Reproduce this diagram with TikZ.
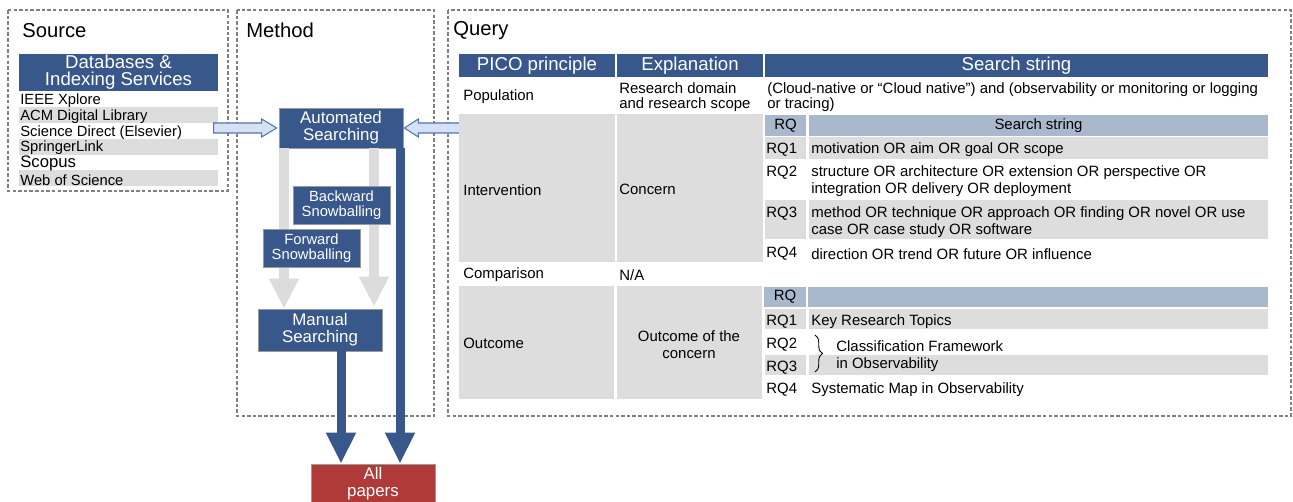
\documentclass[tikz,border=0pt]{standalone}
\usepackage{fontspec}
\setmainfont{Liberation Sans}
\usepackage{xcolor}
\usepackage{tikz}
\usetikzlibrary{arrows.meta, decorations.pathreplacing, calc}
\definecolor{boxblue}{RGB}{56,87,138}
\definecolor{cellgray}{RGB}{221,221,221}
\definecolor{subblue}{RGB}{170,184,206}
\definecolor{flowgray}{RGB}{220,220,220}
\definecolor{paperred}{RGB}{176,58,56}
\definecolor{hollowfill}{RGB}{214,226,243}
\definecolor{hollowline}{RGB}{79,117,178}

\begin{document}
\begin{tikzpicture}[
  x=0.2mm, y=-0.2mm,
  frame/.style={draw=gray, dash pattern=on 2pt off 1.2pt, line width=0.6pt},
  title/.style={anchor=west, inner sep=0pt, yshift=-0.5mm,
                font=\fontsize{11.5}{13}\selectfont},
  stepbox/.style={draw=gray!80, fill=boxblue, text=white, align=center,
                  inner sep=0pt, font=\fontsize{9.6}{9.6}\selectfont},
  snowbox/.style={stepbox, minimum width=19.4mm, minimum height=7.6mm,
                  font=\fontsize{8.4}{8.6}\selectfont},
  hdrcell/.style={fill=boxblue, text=white, inner sep=0pt, minimum height=4.6mm,
                  font=\fontsize{10.6}{11}\selectfont},
  subcell/.style={fill=subblue, inner sep=0pt, font=\fontsize{8.5}{9.6}\selectfont},
  txt/.style={anchor=west, inner sep=0pt, align=left, yshift=-0.35mm,
              font=\fontsize{8.5}{9.6}\selectfont},
  src/.style={anchor=west, inner sep=0pt, yshift=-0.35mm,
              font=\fontsize{8.4}{9}\selectfont},
  flow/.style={line width=2mm, flowgray, -{Triangle[length=6mm, width=5.6mm]}},
  mainflow/.style={line width=1.8mm, boxblue, -{Triangle[length=6.2mm, width=5.6mm]}},
  hollow/.style={draw=hollowline, fill=hollowfill, line width=0.6pt},
]
\useasboundingbox (0,0) rectangle (1293,502);

%% Dashed panels
\draw[frame] (8,10) rectangle (228,191);
\draw[frame] (237,10) rectangle (434,416);
\draw[frame] (448,10) rectangle (1291,416);
\node[title] (srctitle) at (22,28) {Source};
\node[title] (methtitle) at (246,28) {Method};
\node[title] (qrytitle) at (453,28) {Query};

%% Source: databases list
\node[hdrcell, minimum width=39.8mm, minimum height=7.4mm, align=center,
      font=\fontsize{10.6}{9.6}\selectfont] (dbhead) at (118.5,72.5)
  {\rule{0pt}{1.4mm}Databases \&\\Indexing Services};
\foreach \y in {107,139,170}{
  \fill[cellgray] (19,\y) rectangle (218,\y+16);
}
\foreach \n/\y/\t in {1/99/IEEE Xplore, 2/115/ACM Digital Library,
                      3/131/Science Direct (Elsevier), 4/146/SpringerLink,
                      6/178/Web of Science}{
  \node[src] (db\n) at (20,\y) {\t};
}
\node[src, font=\fontsize{9.5}{10}\selectfont] (db5) at (20,162) {Scopus};

%% Method: search steps
\node[stepbox, minimum width=24.8mm, minimum height=8mm] (auto) at (341,128)
  {Automated\\Searching};
\node[stepbox, minimum width=24.8mm, minimum height=8.4mm] (manual) at (320,330)
  {Manual\\Searching};
\node[stepbox, fill=paperred, minimum width=24.8mm, minimum height=7.8mm] (papers)
  at (373,483.5) {All\\papers};

\draw[flow] ($(auto.south)+(-57,0)$) -- ($(manual.north)+(-36,0)$);
\draw[flow] ($(auto.south)+(33,0)$) -- ($(manual.north)+(54,-2)$);
\draw[mainflow] ($(manual.south)+(21,0)$) -- ($(papers.north)+(-32,0)$);
\draw[mainflow] ($(auto.south)+(59,0)$) -- ($(papers.north)+(27,0)$);

\node[snowbox] (bwd) at (341.5,205) {Backward\\Snowballing};
\node[snowbox] (fwd) at (311.5,248) {Forward\\Snowballing};

%% Hollow arrows into the automated search
\draw[hollow] ($(auto.west)+(-65,-5)$) -- ($(auto.west)+(-17,-5)$)
  -- ($(auto.west)+(-17,-9)$) -- ($(auto.west)+(-2,0)$)
  -- ($(auto.west)+(-17,9)$) -- ($(auto.west)+(-17,5)$)
  -- ($(auto.west)+(-65,5)$) -- cycle;
\draw[hollow] ($(auto.east)+(58,-5)$) -- ($(auto.east)+(15,-5)$)
  -- ($(auto.east)+(15,-9)$) -- ($(auto.east)+(1,0)$)
  -- ($(auto.east)+(15,9)$) -- ($(auto.east)+(15,5)$)
  -- ($(auto.east)+(58,5)$) -- cycle;

%% Query table: header
\node[hdrcell, minimum width=31.2mm] (hpico) at (537,65.5) {PICO principle};
\node[hdrcell, minimum width=29.2mm] (hexpl) at (690,65.5) {Explanation};
\node[hdrcell, minimum width=100.6mm] (hstr) at (1016.5,65.5) {Search string};

%% Population row
\node[txt] (pop) at (463,95) {Population};
\node[txt, font=\fontsize{8.5}{8.5}\selectfont] (popexp) at (619,95.5)
  {Research domain\\and research scope};
\node[txt, font=\fontsize{8.5}{8.5}\selectfont] (popstr) at (767,95.5)
  {(Cloud-native or “Cloud native”) and (observability or monitoring or logging\\or tracing)};

%% Gray cells of intervention and outcome
\fill[cellgray] (459,114) rectangle (615,262);
\fill[cellgray] (617,114) rectangle (763,262);
\fill[cellgray] (459,286) rectangle (614,399);
\fill[cellgray] (617,286) rectangle (762,399);
\foreach \ya/\yb in {137/159, 200/239, 309/329, 355/375}{
  \fill[cellgray] (765,\ya) rectangle (806,\yb);
  \fill[cellgray] (809,\ya) rectangle (1268,\yb);
}

%% Intervention row
\node[txt] (intv) at (463,188) {Intervention};
\node[txt] (intvexp) at (619,188) {Concern};
\node[subcell, minimum width=8.2mm, minimum height=4.2mm] (irqhead) at (785.5,125.5) {RQ};
\node[subcell, minimum width=91.8mm, minimum height=4.2mm] (istrhead) at (1038.5,125.5)
  {Search string};
\foreach \n/\y in {1/148, 2/171, 3/212, 4/252}{
  \node[txt] (irq\n) at (766,\y) {RQ\n};
}
\node[txt] (istr1) at (811,148) {motivation OR aim OR goal OR scope};
\node[txt] (istr2) at (811,179.5)
  {structure OR architecture OR extension OR perspective OR\\integration OR delivery OR deployment};
\node[txt] (istr3) at (811,220)
  {method OR technique OR approach OR finding OR novel OR use\\case OR case study OR software};
\node[txt] (istr4) at (811,252) {direction OR trend OR future OR influence};

%% Comparison row
\node[txt] (comp) at (463,273) {Comparison};
\node[txt] (compexp) at (619,273) {N/A};

%% Outcome row
\node[txt] (outc) at (463,342) {Outcome};
\node[txt, anchor=center, align=center, font=\fontsize{8.5}{10}\selectfont] (outcexp)
  at (689,343) {Outcome of the\\concern};
\node[subcell, minimum width=8.4mm, minimum height=4mm] (orqhead) at (785,297) {RQ};
\node[subcell, minimum width=92mm, minimum height=4mm] (ostrhead) at (1038,297) {};
\foreach \n/\y in {1/320, 2/343, 3/366, 4/388}{
  \node[txt] (orq\n) at (766,\y) {RQ\n};
}
\node[txt] (ostr1) at (811,320) {Key Research Topics};
\draw[decorate, decoration={brace, amplitude=1.5mm}, line width=0.5pt]
  (815,335) -- (815,372);
\node[txt] (ostr23) at (836,354.5) {Classification Framework\\in Observability};
\node[txt] (ostr4) at (811,388) {Systematic Map in Observability};
\end{tikzpicture}
\end{document}
